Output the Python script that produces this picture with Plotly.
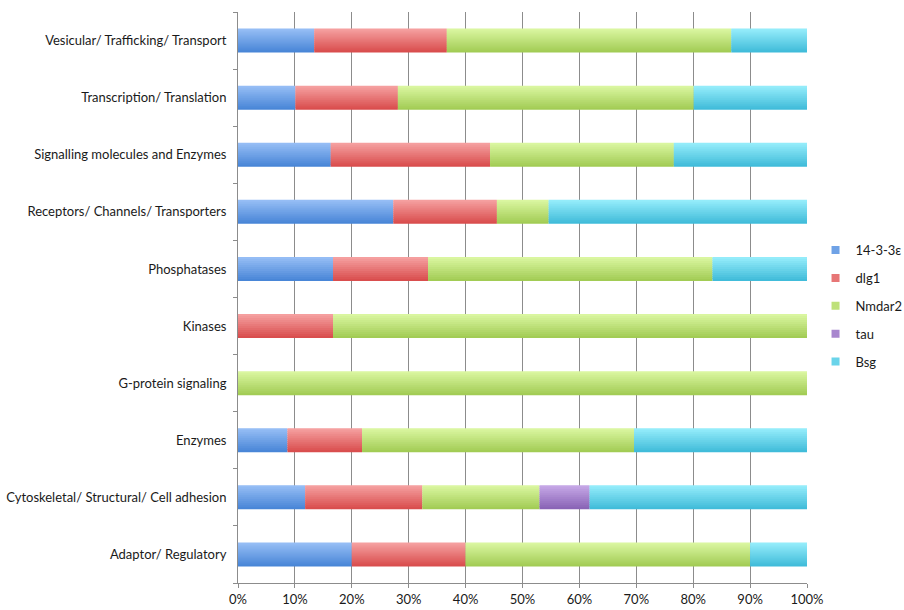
import plotly.graph_objects as go

# Protein categories (bottom to top) and the share of each bait, in percent
categories = [
    "Adaptor/ Regulatory",
    "Cytoskeletal/ Structural/ Cell adhesion",
    "Enzymes",
    "G-protein signaling",
    "Kinases",
    "Phosphatases",
    "Receptors/ Channels/ Transporters",
    "Signalling molecules and Enzymes",
    "Transcription/ Translation",
    "Vesicular/ Trafficking/ Transport",
]
series_names = ["14-3-3ε", "dlg1", "Nmdar2", "tau", "Bsg"]
share_14_3_3e = [20.0, 11.8, 8.7, 0, 0, 16.7, 27.3, 16.3, 10.1, 13.4]
share_dlg1 = [20.0, 20.6, 13.1, 0, 16.7, 16.7, 18.2, 28.0, 18.0, 23.3]
share_nmdar2 = [50.0, 20.6, 47.8, 100.0, 83.3, 50.0, 9.1, 32.3, 52.0, 50.0]
share_tau = [0, 8.8, 0, 0, 0, 0, 0, 0, 0, 0]
share_bsg = [10.0, 38.2, 30.4, 0, 0, 16.6, 45.4, 23.4, 19.9, 13.3]
x_ticks = [0, 10, 20, 30, 40, 50, 60, 70, 80, 90, 100]

series_values = [share_14_3_3e, share_dlg1, share_nmdar2, share_tau, share_bsg]
# (top colour, bottom colour) of the vertical shading of each series
series_colors = [
    ("#98c0f6", "#4683d6"),
    ("#f6a3a3", "#d84a4a"),
    ("#dcf8a3", "#a0ca52"),
    ("#c8aae8", "#8761b4"),
    ("#98eefc", "#3dbad8"),
]


def hex_to_rgb(h):
    h = h.lstrip("#")
    return tuple(int(h[i:i + 2], 16) for i in (0, 2, 4))


def blend(c1, c2, t):
    a, b = hex_to_rgb(c1), hex_to_rgb(c2)
    return "rgb(%d,%d,%d)" % tuple(round(a[i] + (b[i] - a[i]) * t) for i in range(3))


BAR_WIDTH = 0.42
STRIPS = 12
step = BAR_WIDTH / STRIPS

fig = go.Figure()
running = [0.0] * len(categories)
for name, vals, (c_top, c_bot) in zip(series_names, series_values, series_colors):
    base = list(running)
    # each bar is a stack of thin strips shaded from dark (bottom) to light (top)
    for k in range(STRIPS):
        t = 1 - (k + 0.5) / STRIPS
        w = step if k == STRIPS - 1 else step * 1.6
        fig.add_trace(go.Bar(
            y=categories, x=vals, base=base, orientation="h",
            width=w, offset=-BAR_WIDTH / 2 + k * step,
            marker=dict(color=blend(c_top, c_bot, t), line=dict(width=0)),
            name=name, legendgroup=name, showlegend=False,
            hoverinfo="skip",
        ))
    running = [r + v for r, v in zip(running, vals)]

# small square legend keys
for name, (c_top, c_bot) in zip(series_names, series_colors):
    fig.add_trace(go.Scatter(
        x=[None], y=[None], mode="markers", name=name, legendgroup=name,
        marker=dict(symbol="square", size=8, color=blend(c_top, c_bot, 0.5)),
        showlegend=True,
    ))

fig.update_layout(
    width=904, height=610,
    margin=dict(l=238, r=97, t=12, b=27, autoexpand=False),
    paper_bgcolor="white", plot_bgcolor="white",
    barmode="overlay",
    font=dict(family="Lato, 'Open Sans', sans-serif", size=13, color="#1a1a1a"),
    showlegend=True,
    legend=dict(
        x=0.015, y=0.485, xanchor="left", yanchor="middle",
        traceorder="grouped", tracegroupgap=8,
        font=dict(size=13), itemwidth=30,
        bgcolor="rgba(0,0,0,0)",
    ),
    xaxis=dict(
        range=[0, 100], tickvals=x_ticks, ticktext=[f"{v}%" for v in x_ticks],
        showgrid=True, gridcolor="#8c8c8c", gridwidth=1,
        showline=True, linecolor="#8c8c8c", linewidth=1,
        ticks="outside", ticklen=4, tickcolor="#8c8c8c",
        zeroline=False, fixedrange=True,
    ),
    yaxis=dict(
        type="category", categoryorder="array", categoryarray=categories,
        range=[-0.5, len(categories) - 0.5],
        showgrid=False, showline=True, linecolor="#8c8c8c", linewidth=1,
        ticks="outside", ticklen=4, tickcolor="#8c8c8c", tickson="boundaries",
        ticklabelstandoff=8, zeroline=False,
    ),
)
fig.update_layout(legend_x=1.015)

fig.write_html("out.html")
